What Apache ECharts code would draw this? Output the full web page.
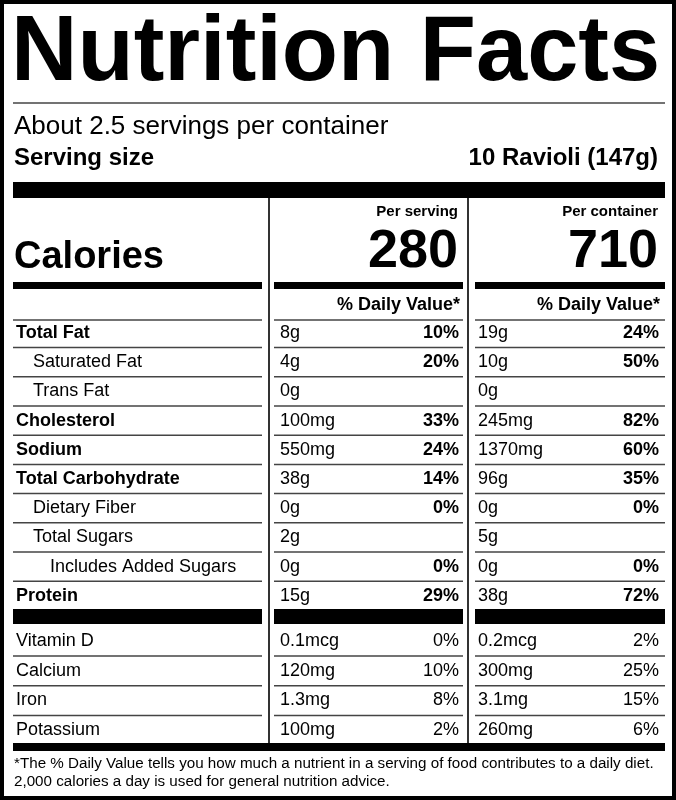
<!DOCTYPE html>
<html><head><meta charset="utf-8">
<script src="https://cdn.jsdelivr.net/npm/echarts@6/dist/echarts.min.js"></script>
<style>html,body{margin:0;padding:0;background:#fff}#c{width:676px;height:800px}</style>
</head><body><div id="c"></div>
<script>
const title = "Nutrition Facts";
const servingsText = "About 2.5 servings per container";
const servingSizeLabel = "Serving size";
const servingSizeValue = "10 Ravioli (147g)";
const colHeads = ["Per serving", "Per container"];
const calories = ["280", "710"];
const dvHead = "% Daily Value*";
const nutrients = ["Total Fat","Saturated Fat","Trans Fat","Cholesterol","Sodium","Total Carbohydrate","Dietary Fiber","Total Sugars","Includes Added Sugars","Protein"];
const nutrientBold = [1,0,0,1,1,1,0,0,0,1];
const nutrientIndent = [0,1,1,0,0,0,1,1,2,0];
const servAmt = ["8g","4g","0g","100mg","550mg","38g","0g","2g","0g","15g"];
const servDV = ["10%","20%","","33%","24%","14%","0%","","0%","29%"];
const contAmt = ["19g","10g","0g","245mg","1370mg","96g","0g","5g","0g","38g"];
const contDV = ["24%","50%","","82%","60%","35%","0%","","0%","72%"];
const vitamins = ["Vitamin D","Calcium","Iron","Potassium"];
const vitServAmt = ["0.1mcg","120mg","1.3mg","100mg"];
const vitServDV = ["0%","10%","8%","2%"];
const vitContAmt = ["0.2mcg","300mg","3.1mg","260mg"];
const vitContDV = ["2%","25%","15%","6%"];
const footnote = ["*The % Daily Value tells you how much a nutrient in a serving of food contributes to a daily diet.","2,000 calories a day is used for general nutrition advice."];

const F = "'Liberation Sans', Arial, sans-serif";
const els = [];
function T(x,y,text,size,bold,align){
  els.push({type:'text',x:x,y:y,style:{text:text,fontFamily:F,fontSize:size,fontWeight:bold?'bold':'normal',fill:'#000',align:align||'left',verticalAlign:'middle'}});
}
function R(x,y,w,h,c){els.push({type:'rect',shape:{x:x,y:y,width:w,height:h},style:{fill:c||'#000'}});}
function L(x1,x2,y){els.push({type:'line',shape:{x1:x1,y1:y,x2:x2,y2:y},style:{stroke:'#444',lineWidth:1.5}});}
const segs = [[13,262],[274,463],[475,665]];
function segLine(y){segs.forEach(s=>L(s[0],s[1],y));}
function segBar(y,h){segs.forEach(s=>R(s[0],y,s[1]-s[0],h));}

els.push({type:'rect',shape:{x:2,y:2,width:672,height:796},style:{fill:'none',stroke:'#000',lineWidth:4}});
T(11,55,title,92,true);
L(13,665,103);
T(14,127,servingsText,26,false);
T(14,158,servingSizeLabel,24,true);
T(658,158,servingSizeValue,24,true,'right');
R(13,182,652,16);
els.push({type:'line',shape:{x1:269,y1:198,x2:269,y2:743},style:{stroke:'#333',lineWidth:2}});
els.push({type:'line',shape:{x1:468,y1:198,x2:468,y2:743},style:{stroke:'#333',lineWidth:2}});
T(458,212,colHeads[0],15,true,'right');
T(658,212,colHeads[1],15,true,'right');
T(458,252,calories[0],54,true,'right');
T(658,252,calories[1],54,true,'right');
T(14,258,"Calories",38,true);
segBar(282,7);
T(460,305,dvHead,18,true,'right');
T(660,305,dvHead,18,true,'right');
segLine(320);
const rowY0=333, rowH=29.2;
nutrients.forEach((n,i)=>{
  const y=rowY0+i*rowH;
  T(16+nutrientIndent[i]*17,y,n,18,nutrientBold[i]===1);
  T(280,y,servAmt[i],18,false);
  T(459,y,servDV[i],18,true,'right');
  T(478,y,contAmt[i],18,false);
  T(659,y,contDV[i],18,true,'right');
  if(i<nutrients.length-1) segLine(y+14.6);
});
segBar(609,15);
vitamins.forEach((n,i)=>{
  const y=641+i*29.7;
  T(16,y,n,18,false);
  T(280,y,vitServAmt[i],18,false);
  T(459,y,vitServDV[i],18,false,'right');
  T(478,y,vitContAmt[i],18,false);
  T(659,y,vitContDV[i],18,false,'right');
  if(i<vitamins.length-1) segLine(y+15);
});
R(13,743,652,8);
T(14,764,footnote[0],15.2,false);
T(14,782,footnote[1],15.2,false);

const chart = echarts.init(document.getElementById('c'));
chart.setOption({animation:false,graphic:{elements:els}});
</script></body></html>
